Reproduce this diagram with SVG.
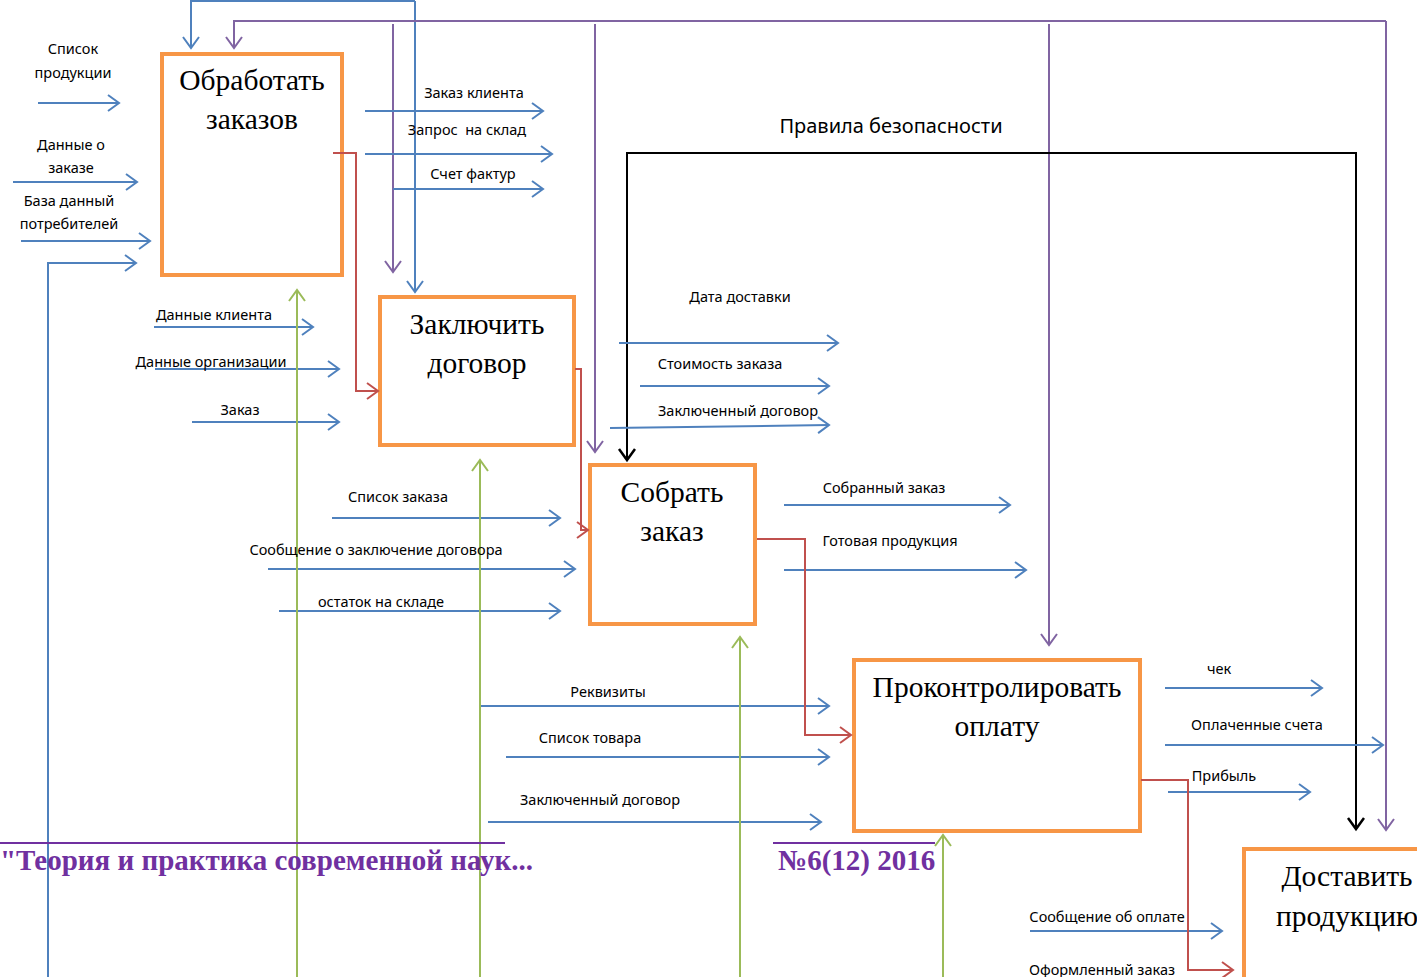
<svg xmlns="http://www.w3.org/2000/svg" width="1417" height="977" viewBox="0 0 1417 977">
<style>
.box{fill:#fff;stroke:#F79646;stroke-width:4}
.t{font-family:"Liberation Serif","Times New Roman",serif;font-size:29.5px;fill:#000;text-anchor:middle}
.l{font-family:"Noto Sans","Liberation Sans",sans-serif;font-size:14.5px;fill:#000;text-anchor:middle;white-space:pre}
.b{fill:none;stroke:#4F81BD;stroke-width:2;marker-end:url(#mb)}
.p{fill:none;stroke:#8064A2;stroke-width:2;marker-end:url(#mp)}
.g{fill:none;stroke:#9BBB59;stroke-width:2;marker-end:url(#mg)}
.r{fill:none;stroke:#C0504D;stroke-width:2;marker-end:url(#mr)}
.k{fill:none;stroke:#000;stroke-width:2;marker-end:url(#mk)}
.h{font-family:"Liberation Serif","Times New Roman",serif;font-weight:bold;font-size:29px;fill:#7030A0}
</style>
<defs>
<marker id="mb" markerUnits="userSpaceOnUse" markerWidth="20" markerHeight="20" refX="13" refY="9" orient="auto"><path d="M2,1 L13,9 L2,17" fill="none" stroke="#4F81BD" stroke-width="2"/></marker>
<marker id="mp" markerUnits="userSpaceOnUse" markerWidth="20" markerHeight="20" refX="13" refY="9" orient="auto"><path d="M2,1 L13,9 L2,17" fill="none" stroke="#8064A2" stroke-width="2"/></marker>
<marker id="mg" markerUnits="userSpaceOnUse" markerWidth="20" markerHeight="20" refX="13" refY="9" orient="auto"><path d="M2,1 L13,9 L2,17" fill="none" stroke="#9BBB59" stroke-width="2"/></marker>
<marker id="mr" markerUnits="userSpaceOnUse" markerWidth="20" markerHeight="20" refX="13" refY="9" orient="auto"><path d="M2,1 L13,9 L2,17" fill="none" stroke="#C0504D" stroke-width="2"/></marker>
<marker id="mk" markerUnits="userSpaceOnUse" markerWidth="20" markerHeight="20" refX="13" refY="9" orient="auto"><path d="M2,1 L13,9 L2,17" fill="none" stroke="#000" stroke-width="2.5"/></marker>
</defs>
<rect width="1417" height="977" fill="#fff"/>

<g id="node1"><rect class="box" x="162" y="54" width="180" height="221"/><text class="t" x="252" y="90">Обработать</text><text class="t" x="252" y="129">заказов</text></g>
<g id="node2"><rect class="box" x="380" y="297" width="194" height="148"/><text class="t" x="477" y="334">Заключить</text><text class="t" x="477" y="373">договор</text></g>
<g id="node3"><rect class="box" x="590" y="465" width="165" height="159"/><text class="t" x="672" y="502">Собрать</text><text class="t" x="672" y="541">заказ</text></g>
<g id="node4"><rect class="box" x="854" y="660" width="286" height="171"/><text class="t" x="997" y="697">Проконтролировать</text><text class="t" x="997" y="736">оплату</text></g>
<g id="node5"><rect class="box" x="1244" y="849" width="200" height="200"/><text class="t" x="1347" y="886">Доставить</text><text class="t" x="1347" y="926">продукцию</text></g>

<g id="connectors">
<path class="b" d="M415,1 V292"/>
<path class="b" d="M415,1 H191 V48"/>
<path class="p" d="M1386,21 H234 V48"/>
<path class="p" d="M1386,21 V830"/>
<path class="p" d="M393,24 V272"/>
<path class="p" d="M595,24 V452"/>
<path class="p" d="M1049,24 V645"/>
<path class="k" d="M800,153 H627 V460"/>
<path class="k" d="M800,153 H1356 V829"/>

<path class="b" d="M38,103 H119"/>
<path class="b" d="M13,182 H137"/>
<path class="b" d="M21,241 H150"/>
<path class="b" d="M48,977 V263 H136"/>

<path class="b" d="M365,111 H543"/>
<path class="b" d="M365,154 H552"/>
<path class="b" d="M393,189 H543"/>

<path class="b" d="M154,327 H313"/>
<path class="b" d="M155,369 H339"/>
<path class="b" d="M192,422 H339"/>

<path class="b" d="M619,343 H838"/>
<path class="b" d="M640,386 H829"/>
<path class="b" d="M610,428 L829,425"/>

<path class="b" d="M332,518 H560"/>
<path class="b" d="M268,569 H575"/>
<path class="b" d="M279,611 H560"/>

<path class="b" d="M784,505 H1010"/>
<path class="b" d="M784,570 H1026"/>

<path class="b" d="M481,706 H829"/>
<path class="b" d="M506,757 H829"/>
<path class="b" d="M488,822 H821"/>

<path class="b" d="M1165,688 H1322"/>
<path class="b" d="M1165,745 H1383"/>
<path class="b" d="M1168,792 H1310"/>
<path class="b" d="M1030,931 H1222"/>

<path class="g" d="M297,977 V290"/>
<path class="g" d="M480,977 V460"/>
<path class="g" d="M740,977 V637"/>
<path class="g" d="M943,977 V835"/>

<path class="r" d="M333,153 H356 V391 H378"/>
<path class="r" d="M575,369 H581 V530 H588"/>
<path class="r" d="M757,539 H805 V735 H851"/>
<path class="r" d="M1141,780 H1188 V970 H1233"/>
</g>

<g id="labels">
<text class="l" x="73" y="54">Список</text><text class="l" x="73" y="78">продукции</text>
<text class="l" x="71" y="150">Данные о</text><text class="l" x="71" y="173">заказе</text>
<text class="l" x="69" y="206">База данный</text><text class="l" x="69" y="229">потребителей</text>
<text class="l" x="474" y="98">Заказ клиента</text>
<text class="l" x="467" y="135">Запрос  на склад</text>
<text class="l" x="473" y="179">Счет фактур</text>
<text class="l" x="891" y="133" style="font-size:20px">Правила безопасности</text>
<text class="l" x="214" y="320">Данные клиента</text>
<text class="l" x="211" y="367">Данные организации</text>
<text class="l" x="240" y="415">Заказ</text>
<text class="l" x="740" y="302">Дата доставки</text>
<text class="l" x="720" y="369">Стоимость заказа</text>
<text class="l" x="738" y="416">Заключенный договор</text>
<text class="l" x="398" y="502">Список заказа</text>
<text class="l" x="376" y="555">Сообщение о заключение договора</text>
<text class="l" x="381" y="607">остаток на складе</text>
<text class="l" x="884" y="493">Собранный заказ</text>
<text class="l" x="890" y="546">Готовая продукция</text>
<text class="l" x="608" y="697">Реквизиты</text>
<text class="l" x="590" y="743">Список товара</text>
<text class="l" x="600" y="805">Заключенный договор</text>
<text class="l" x="1219" y="674">чек</text>
<text class="l" x="1257" y="730">Оплаченные счета</text>
<text class="l" x="1224" y="781">Прибыль</text>
<text class="l" x="1107" y="922">Сообщение об оплате</text>
<text class="l" x="1102" y="975">Оформленный заказ</text>
</g>

<g id="header">
<line x1="0" y1="843" x2="505" y2="843" stroke="#7030A0" stroke-width="2"/>
<line x1="773" y1="843" x2="935" y2="843" stroke="#7030A0" stroke-width="2"/>
<text class="h" x="0" y="870">"Теория и практика современной наук...</text>
<text class="h" x="778" y="870">№6(12) 2016</text>
</g>
</svg>
